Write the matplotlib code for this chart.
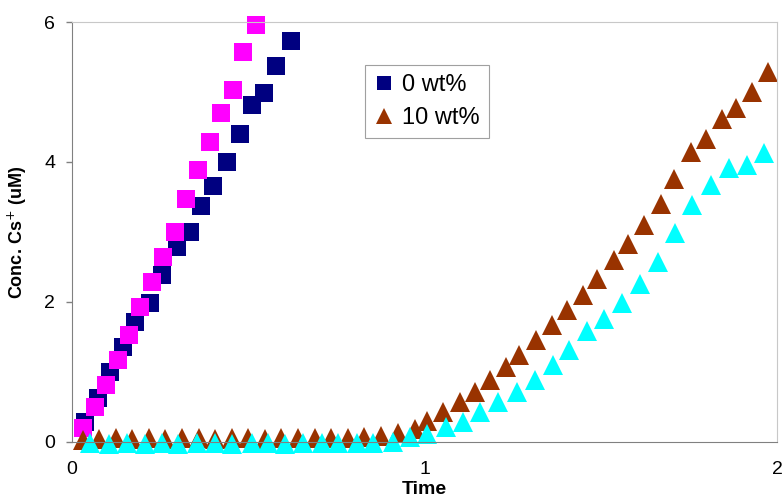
import matplotlib
matplotlib.use("Agg")
import matplotlib.pyplot as plt

plt.rcParams['font.family'] = ['Liberation Sans', 'DejaVu Sans']

# ------------------------
# data
# ------------------------
navy_x = [0.037, 0.074, 0.108, 0.144, 0.178, 0.221, 0.255, 0.297, 0.334, 0.366,
          0.40, 0.44, 0.476, 0.51, 0.544, 0.58, 0.62]
navy_y = [0.29, 0.63, 1.00, 1.36, 1.71, 1.99, 2.39, 2.79, 3.0, 3.37,
          3.66, 4.0, 4.4, 4.81, 4.99, 5.37, 5.73]

magenta_x = [0.031, 0.065, 0.096, 0.130, 0.161, 0.193, 0.227, 0.258, 0.292, 0.323,
             0.357, 0.391, 0.422, 0.456, 0.484, 0.521]
magenta_y = [0.20, 0.50, 0.81, 1.17, 1.53, 1.93, 2.29, 2.64, 3.00, 3.47,
             3.89, 4.29, 4.70, 5.03, 5.57, 5.96]

brown_x = [0.03, 0.077, 0.124, 0.171, 0.218, 0.265, 0.312, 0.359, 0.406, 0.453,
           0.50, 0.547, 0.594, 0.641, 0.688, 0.735, 0.782, 0.829, 0.876, 0.924,
           0.972, 1.008, 1.051, 1.099, 1.142, 1.184, 1.232, 1.269, 1.317, 1.360,
           1.405, 1.448, 1.490, 1.538, 1.578, 1.623, 1.669, 1.708, 1.756, 1.799,
           1.844, 1.884, 1.929, 1.975]
brown_y = [0.03, 0.04, 0.05, 0.04, 0.05, 0.04, 0.05, 0.05, 0.04, 0.05,
           0.05, 0.04, 0.05, 0.05, 0.06, 0.05, 0.06, 0.07, 0.09, 0.12,
           0.18, 0.30, 0.43, 0.57, 0.71, 0.89, 1.07, 1.24, 1.46, 1.67,
           1.89, 2.10, 2.33, 2.60, 2.83, 3.10, 3.40, 3.76, 4.14, 4.33,
           4.61, 4.77, 5.00, 5.29]

cyan_x = [0.051, 0.105, 0.156, 0.207, 0.255, 0.300, 0.354, 0.405, 0.455, 0.510,
          0.555, 0.603, 0.654, 0.708, 0.754, 0.807, 0.853, 0.909, 0.958, 1.008,
          1.060, 1.108, 1.156, 1.207, 1.261, 1.312, 1.363, 1.408, 1.459, 1.510,
          1.561, 1.612, 1.663, 1.711, 1.759, 1.813, 1.864, 1.915, 1.963]
cyan_y = [-0.02, -0.03, -0.02, -0.03, -0.02, -0.03, -0.02, -0.02, -0.03, -0.02,
          -0.02, -0.03, -0.02, -0.02, -0.02, -0.02, -0.01, 0.0, 0.07, 0.11,
          0.21, 0.29, 0.43, 0.57, 0.71, 0.89, 1.10, 1.31, 1.58, 1.76,
          1.98, 2.25, 2.57, 2.98, 3.38, 3.67, 3.92, 3.96, 4.13]

x_ticks = [0, 1, 2]
y_ticks = [0, 2, 4, 6]

# ------------------------
# plot
# ------------------------
fig = plt.figure(figsize=(7.82, 5.01), dpi=100)
ax = fig.add_axes([0.092, 0.118, 0.902, 0.838])

sq = 13   # square size
tri = 14  # triangle size
ax.plot(navy_x, navy_y, 's', color='#000080', ms=sq, mew=0, clip_on=False, label='0 wt%')
ax.plot(magenta_x, magenta_y, 's', color='#FF00FF', ms=sq, mew=0, clip_on=False)
ax.plot(brown_x, brown_y, '^', color='#993300', ms=tri, mew=0, clip_on=False, label='10 wt%')
ax.plot(cyan_x, cyan_y, '^', color='#00FFFF', ms=tri, mew=0, clip_on=False)

ax.set_xlim(0, 2)
ax.set_ylim(0, 6)
ax.set_xticks(x_ticks)
ax.set_yticks(y_ticks)
ax.tick_params(axis='x', length=0, pad=14, labelsize=14)
ax.tick_params(axis='y', length=4, width=1, color='#808080', pad=8, labelsize=14)

for side in ['left', 'bottom']:
    ax.spines[side].set_color('#808080')
for side in ['top', 'right']:
    ax.spines[side].set_color('#c8c8c8')

ax.set_xlabel('Time', fontsize=14, fontweight='bold', labelpad=2)
ax.set_ylabel('Conc. Cs$^{+}$ (uM)', fontsize=13, fontweight='bold', labelpad=11)

leg = ax.legend(loc='upper left', bbox_to_anchor=(0.416, 0.898), borderaxespad=0,
                fancybox=False, edgecolor='#a0a0a0', fontsize=17, markerscale=0.78,
                handlelength=0.8, handletextpad=0.35, labelspacing=0.45,
                borderpad=0.4, framealpha=1)
leg.get_frame().set_linewidth(0.8)

fig.savefig('out.png', dpi=100)
